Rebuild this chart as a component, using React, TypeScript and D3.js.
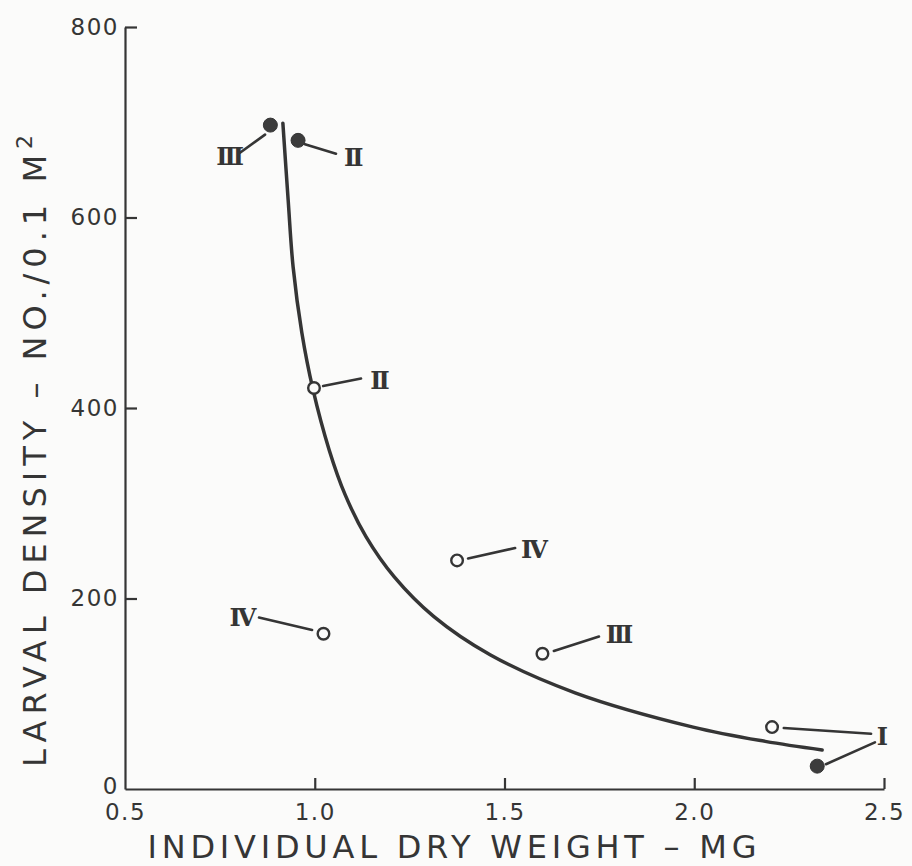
import React, { useEffect, useRef } from "react";
import * as d3 from "d3";

// ---- data ----
const xTicks = [0.5, 1.0, 1.5, 2.0, 2.5];
const yTicks = [0, 200, 400, 600, 800];

// fitted curve (dry weight mg, density)
const curveX = [0.916, 0.93, 0.943, 0.966, 0.995, 1.038, 1.08, 1.135, 1.209, 1.314, 1.462, 1.686, 1.997, 2.187, 2.337];
const curveY = [699, 618, 548, 479, 420, 356, 309, 265, 223, 181, 141, 101, 65, 50, 41];

// observed points
const pointX = [0.883, 0.956, 0.998, 1.023, 1.375, 1.6, 2.205, 2.324];
const pointY = [697, 681, 421, 163, 240, 142, 65, 24];
const pointFilled = [true, true, false, false, false, false, false, true];

// annotations: label text, label anchor (data units), leader lines (data units)
const labelText = ["III", "II", "II", "IV", "IV", "III", "I"];
const labelX = [0.773, 1.099, 1.168, 0.807, 1.575, 1.799, 2.492];
const labelY = [664, 663, 429, 180, 252, 162, 55];
const leaderX1 = [0.803, 0.974, 1.022, 0.853, 1.404, 1.63, 2.236, 2.347];
const leaderY1 = [668, 677, 423, 180, 242, 145, 64, 26];
const leaderX2 = [0.869, 1.056, 1.122, 0.993, 1.528, 1.749, 2.466, 2.476];
const leaderY2 = [687, 667, 431, 167, 253, 160, 58, 49];

const W = 912;
const H = 866;
const INK = "#353535";
const BG = "#fbfbfa";

export default function App() {
  const xAxisRef = useRef<SVGGElement>(null);
  const yAxisRef = useRef<SVGGElement>(null);

  const x = d3.scaleLinear().domain([0.5, 2.5]).range([125, 884]);
  const y = d3.scaleLinear().domain([0, 800]).range([789, 27]);

  useEffect(() => {
    const xa = d3
      .axisBottom(x)
      .tickValues(xTicks)
      .tickFormat(d3.format(".1f"))
      .tickSizeInner(-11)
      .tickSizeOuter(0)
      .tickPadding(15);
    const ya = d3
      .axisLeft(y)
      .tickValues(yTicks)
      .tickFormat(d3.format("d"))
      .tickSizeInner(-12)
      .tickSizeOuter(0)
      .tickPadding(6);
    const gx = d3.select(xAxisRef.current!);
    gx.call(xa as any);
    const gy = d3.select(yAxisRef.current!);
    gy.call(ya as any);
    [gx, gy].forEach((g) => {
      g.select(".domain").attr("stroke", INK).attr("stroke-width", 2.2);
      g.selectAll(".tick line").attr("stroke", INK).attr("stroke-width", 2.2);
      g.selectAll(".tick text")
        .attr("fill", INK)
        .attr("font-family", "DejaVu Sans")
        .attr("font-size", 23)
        .attr("letter-spacing", 1.5);
    });
    // hide the ticks that sit on the other axis at the origin
    gx.selectAll(".tick").filter((d: any) => d === 0.5).select("line").remove();
    gy.selectAll(".tick").filter((d: any) => d === 0).select("line").remove();
    gy.selectAll(".tick").filter((d: any) => d === 0).select("text").attr("dy", "0.2em");
  }, []);

  const curveData = curveX.map((v, i) => [v, curveY[i]] as [number, number]);
  const line = d3
    .line<[number, number]>()
    .x((d) => x(d[0]))
    .y((d) => y(d[1]))
    .curve(d3.curveCatmullRom.alpha(0.5));

  return (
    <svg width={W} height={H} style={{ position: "absolute", left: 0, top: 0, background: BG }}>
      <rect x={0} y={0} width={W} height={H} fill={BG} />
      <g ref={xAxisRef} transform={`translate(0,${y(0)})`} />
      <g ref={yAxisRef} transform={`translate(${x(0.5)},0)`} />

      <path d={line(curveData) || ""} fill="none" stroke={INK} strokeWidth={3.5} strokeLinecap="round" />

      {leaderX1.map((v, i) => (
        <line
          key={"l" + i}
          x1={x(v)}
          y1={y(leaderY1[i])}
          x2={x(leaderX2[i])}
          y2={y(leaderY2[i])}
          stroke={INK}
          strokeWidth={2.6}
          strokeLinecap="round"
        />
      ))}

      {pointX.map((v, i) => (
        <circle
          key={"p" + i}
          cx={x(v)}
          cy={y(pointY[i])}
          r={pointFilled[i] ? 7 : 5.8}
          fill={pointFilled[i] ? "#3c3c3c" : BG}
          stroke={INK}
          strokeWidth={pointFilled[i] ? 1 : 2.4}
        />
      ))}

      {labelText.map((t, i) => (
        <text
          key={"t" + i}
          x={x(labelX[i])}
          y={y(labelY[i])}
          dy="0.36em"
          textAnchor="middle"
          fontFamily="DejaVu Serif"
          fontWeight="bold"
          fontSize={24}
          letterSpacing={-3}
          fill={INK}
        >
          {t}
        </text>
      ))}

      <text
        x={452}
        y={858}
        textAnchor="middle"
        fontFamily="DejaVu Sans"
        fontSize={32}
        fill={INK}
        textLength={609}
        lengthAdjust="spacing"
      >
        INDIVIDUAL DRY WEIGHT – MG
      </text>

      <text
        transform="translate(46,767) rotate(-90)"
        x={0}
        y={0}
        textAnchor="start"
        fontFamily="DejaVu Sans"
        fontSize={32}
        fill={INK}
        textLength={632}
        lengthAdjust="spacing"
      >
        LARVAL DENSITY – NO./0.1 M
        <tspan dy={-14} fontSize={22}>
          2
        </tspan>
      </text>
    </svg>
  );
}
